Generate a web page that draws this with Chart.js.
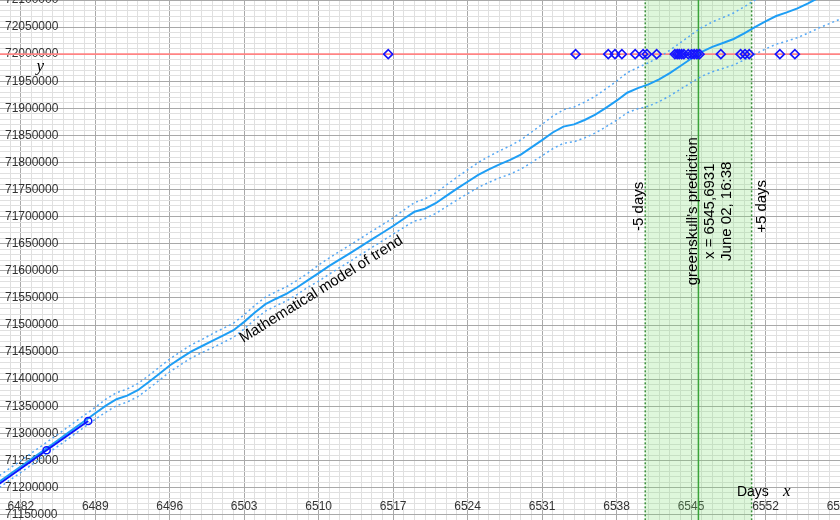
<!DOCTYPE html>
<html>
<head>
<meta charset="utf-8">
<script src="https://cdn.jsdelivr.net/npm/chart.js@4/dist/chart.umd.min.js"></script>
<style>
html,body{margin:0;padding:0;background:#fff;overflow:hidden}
#wrap{width:840px;height:520px;position:relative}
</style>
</head>
<body>
<div id="wrap"><canvas id="c" width="840" height="520"></canvas></div>
<script>
// ---- data ----
const trendStartDay = 6480;           // first day of the model series (one value per day)
const trendValues = [
71211000,71224900,71238700,71252500,71266400,71280400,71294400,71308600,71322800,71337000,
71351200,71363000,71369700,71379600,71394200,71409700,71425200,71438300,71451000,71460800,
71470700,71480500,71490300,71505800,71523100,71538600,71548500,71557800,71569700,71582800,
71595900,71609000,71621200,71633200,71645700,71658100,71670300,71682800,71696100,71709000,
71714700,71724800,71738500,71751800,71764500,71777000,71787200,71796600,71804700,71814700,
71827900,71841400,71855400,71866300,71870400,71878500,71888400,71901000,71914100,71928800,
71937300,71944100,71953300,71965100,71978200,71991500,72004200,72013500,72020700,72028000,
72038400,72049800,72060700,72070400,72077100,72084500,72093900,72104200,72113400,72122600,
72131900];
const upperValues = [
71222000,71235900,71249700,71263500,71277400,71291400,71305400,71319600,71333800,71348000,
71363200,71375000,71381700,71391600,71406200,71421700,71437200,71450300,71463000,71472800,
71483700,71493500,71503300,71518800,71536100,71551600,71561500,71570800,71582700,71595800,
71610900,71624000,71636200,71648200,71660700,71673100,71685300,71697800,71712100,71726000,
71732700,71743800,71758500,71772800,71786500,71800000,71811200,71821600,71830700,71841700,
71855900,71870400,71885400,71897300,71902400,71911500,71922400,71936000,71950100,71965800,
71975300,71984100,71994300,72007100,72021200,72035500,72049200,72059500,72067700,72076000,
72087400,72099800,72111700,72122400,72130100,72138500,72148900,72160200,72170400,72180600,
72190900];
const lowerValues = [
71200000,71213900,71227700,71241500,71255400,71269400,71283400,71297600,71311800,71326000,
71339200,71351000,71357700,71367600,71382200,71397700,71413200,71426300,71439000,71448800,
71457700,71467500,71477300,71492800,71510100,71525600,71535500,71544800,71556700,71569800,
71580900,71594000,71606200,71618200,71630700,71643100,71655300,71667800,71680100,71692000,
71696700,71705800,71718500,71730800,71742500,71754000,71763200,71771600,71778700,71787700,
71799900,71812400,71825400,71835300,71838400,71845500,71854400,71866000,71878100,71891800,
71899300,71904100,71912300,71923100,71935200,71947500,71959200,71967500,71973700,71980000,
71989400,71999800,72009700,72018400,72024100,72030500,72038900,72048200,72056400,72064600,
72072900];
const actualDays   = [6478.5, 6484.43, 6488.34];
const actualValues = [71186000, 71268800, 71322800];
const guessDays = [6516.54, 6534.15, 6537.22, 6537.85, 6538.5, 6539.75, 6540.5, 6540.85,
  6541.77, 6543.48, 6543.7, 6543.89, 6544.11, 6544.33, 6544.74, 6545.05, 6545.3, 6545.55,
  6545.8, 6547.8, 6549.66, 6550.07, 6550.47, 6553.35, 6554.76];
const targetValue = 72000000;
const predictionDay = 6545.6931;
const windowDays = 5;
const xMin = 6480.05, xMax = 6559, yMin = 71140000, yMax = 72100000;
const xMajorStart = 6482, xMajorEvery = 7, yMinorStep = 10000, yMajorEvery = 50000;

// ---- helpers ----
const trendDays = trendValues.map((_, i) => trendStartDay + i);
const pts = (xs, ys) => xs.map((x, i) => ({x: x, y: ys[i]}));
const SANS = '"Liberation Sans", Arial, Helvetica, sans-serif';
const majorGrid = '#a9a9a9', minorGrid = '#e0e0e0';

const textPlugin = {
  id: 'texts',
  afterDatasetsDraw(chart) {
    const {ctx} = chart;
    const sx = chart.scales.x, sy = chart.scales.y;
    const X = v => sx.getPixelForValue(v), Y = v => sy.getPixelForValue(v);
    ctx.save();
    ctx.fillStyle = '#000';
    function txt(s, px, py, ang, align, font) {
      ctx.save();
      ctx.translate(px, py);
      ctx.rotate(ang);
      ctx.font = font;
      ctx.textAlign = align;
      ctx.textBaseline = 'alphabetic';
      ctx.fillText(s, 0, 0);
      ctx.restore();
    }
    const f15 = '15px ' + SANS;
    const up = -Math.PI / 2;
    const cy = Y(71719000), cy2 = Y(71710000);
    txt('-5 days', X(predictionDay - windowDays) - 2, cy, up, 'center', f15);
    txt('+5 days', X(predictionDay + windowDays) + 14, cy, up, 'center', f15);
    const px = X(predictionDay);
    txt("greenskull's prediction", px - 1, cy2, up, 'center', f15);
    txt('x = 6545,6931', px + 16, cy2, up, 'center', f15);
    txt('June 02, 16:38', px + 32.5, cy2, up, 'center', f15);
    txt('Mathematical model of trend', X(6502.91), Y(71466700), -32 * Math.PI / 180, 'left', f15);
    txt('Days', X(6549.31), Y(71184000), 0, 'left', '14px ' + SANS);
    txt('x', X(6553.65), Y(71184000), 0, 'left', 'italic 17px "Liberation Serif", "DejaVu Serif", serif');
    txt('y', X(6483.49), Y(71968650), 0, 'left', 'italic 17px "Liberation Serif", "DejaVu Serif", serif');
    ctx.restore();
  }
};

const yOutTop = yMax + 200000, yOutBot = yMin - 200000;
const winLo = predictionDay - windowDays, winHi = predictionDay + windowDays;

new Chart(document.getElementById('c'), {
  type: 'scatter',
  data: {
    datasets: [
      { // guesses
        data: pts(guessDays, guessDays.map(() => targetValue)),
        showLine: false, pointStyle: 'rectRot', pointRadius: 4.5,
        borderColor: '#1515ff', backgroundColor: 'rgba(255,255,255,0)', pointBorderWidth: 1.6,
        order: 0
      },
      { // actual data
        data: pts(actualDays, actualValues),
        showLine: true, borderColor: '#0a14ff', borderWidth: 2,
        pointStyle: 'circle', pointRadius: 3.6, pointBorderWidth: 1.5,
        pointBorderColor: '#0a14ff', pointBackgroundColor: 'rgba(255,255,255,0)',
        order: 1
      },
      { // model of trend
        data: pts(trendDays, trendValues),
        showLine: true, borderColor: '#1e9ef5', borderWidth: 2, pointRadius: 0,
        order: 2
      },
      {
        data: pts(trendDays, upperValues),
        showLine: true, borderColor: '#55a8f5', borderWidth: 1.5, borderDash: [2, 3], pointRadius: 0,
        order: 3
      },
      {
        data: pts(trendDays, lowerValues),
        showLine: true, borderColor: '#55a8f5', borderWidth: 1.5, borderDash: [2, 3], pointRadius: 0,
        order: 3
      },
      { // target level
        data: [{x: xMin - 10, y: targetValue}, {x: xMax + 10, y: targetValue}],
        showLine: true, borderColor: '#ff8484', borderWidth: 1.6, pointRadius: 0,
        order: 4
      },
      { // prediction line
        data: [{x: predictionDay, y: yOutBot}, {x: predictionDay, y: yOutTop}],
        showLine: true, borderColor: '#39a339', borderWidth: 1.5, pointRadius: 0,
        order: 5
      },
      {
        data: [{x: winLo, y: yOutBot}, {x: winLo, y: yOutTop}],
        showLine: true, borderColor: '#3c913c', borderWidth: 1.5, borderDash: [2, 2], pointRadius: 0,
        order: 5
      },
      {
        data: [{x: winHi, y: yOutBot}, {x: winHi, y: yOutTop}],
        showLine: true, borderColor: '#3c913c', borderWidth: 1.5, borderDash: [2, 2], pointRadius: 0,
        order: 5
      },
      { // +-5 days window
        data: [{x: winLo, y: yOutTop}, {x: winHi, y: yOutTop}],
        showLine: true, borderWidth: 0, borderColor: 'rgba(0,0,0,0)', pointRadius: 0,
        fill: 'start', backgroundColor: 'rgba(125,222,110,0.25)',
        order: 6
      }
    ]
  },
  options: {
    responsive: false,
    animation: false,
    devicePixelRatio: 1,
    layout: {padding: 0, autoPadding: false},
    plugins: {legend: {display: false}, tooltip: {enabled: false}, title: {display: false}},
    events: [],
    scales: {
      x: {
        type: 'linear', min: xMin, max: xMax, position: 'bottom',
        border: {display: false},
        grid: {
          drawTicks: false, lineWidth: 1,
          color: c => (c.tick && ((Math.round(c.tick.value) - xMajorStart) % xMajorEvery === 0)) ? majorGrid : minorGrid
        },
        ticks: {
          stepSize: 1, autoSkip: false, maxRotation: 0, minRotation: 0, includeBounds: false,
          mirror: true, padding: 6, color: '#333', font: {family: SANS, size: 12},
          callback: v => ((Math.round(v) - xMajorStart) % xMajorEvery === 0) ? String(Math.round(v)) : ''
        },
        afterFit: s => { s.height = 0; s.paddingLeft = 0; s.paddingRight = 0; s.paddingTop = 0; s.paddingBottom = 0; }
      },
      y: {
        type: 'linear', min: yMin, max: yMax, position: 'left',
        border: {display: false},
        grid: {
          drawTicks: false, lineWidth: 1,
          color: c => (c.tick && (Math.round(c.tick.value) % yMajorEvery === 0)) ? majorGrid : minorGrid
        },
        ticks: {
          stepSize: yMinorStep, autoSkip: false, mirror: true, padding: 5, includeBounds: false,
          color: '#333', font: {family: SANS, size: 12},
          callback: v => (Math.round(v) % yMajorEvery === 0) ? String(Math.round(v)) : ''
        },
        afterFit: s => { s.width = 0; s.paddingLeft = 0; s.paddingRight = 0; s.paddingTop = 0; s.paddingBottom = 0; }
      }
    }
  },
  plugins: [textPlugin]
});
</script>
</body>
</html>
